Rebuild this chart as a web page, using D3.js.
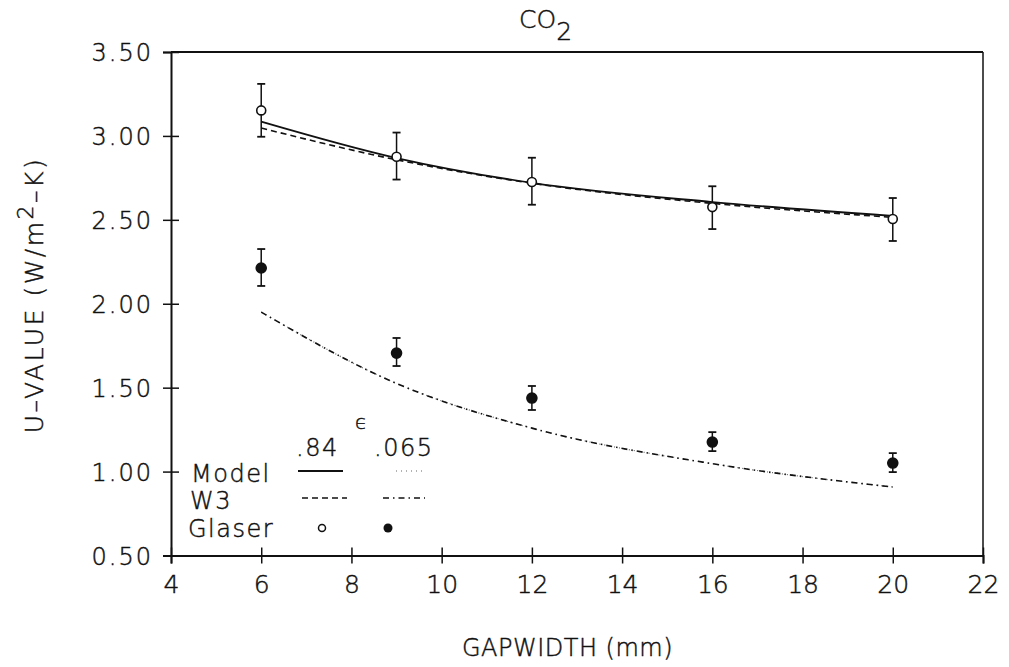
<!DOCTYPE html>
<html>
<head>
<meta charset="utf-8">
<script src="https://cdn.jsdelivr.net/npm/d3@7"></script>
<style>
  html, body { margin: 0; padding: 0; background: #fff; }
  svg { display: block; }
  svg text { font-family: "DejaVu Sans ExtraLight", "DejaVu Sans", sans-serif; font-weight: 200;
             fill: #111; stroke: #111; stroke-width: 0.45px; }
</style>
</head>
<body>
<svg id="chart" width="1009" height="667"></svg>
<script>
// Gap widths (mm) where U-values were computed / measured
const gapWidths = [6, 9, 12, 16, 20];

// Model predictions, emissivity .84 and .065
const model084 = [3.085, 2.868, 2.72, 2.606, 2.523];
const model065 = [1.95, 1.525, 1.259, 1.047, 0.908];

// W3 predictions, emissivity .84 and .065
const w3_084 = [3.047, 2.858, 2.718, 2.598, 2.515];
const w3_065 = [1.95, 1.525, 1.259, 1.047, 0.908];

// Glaser measurements with error bounds
const glaser084 = [3.152, 2.876, 2.725, 2.576, 2.505];
const glaser084Hi = [3.31, 3.02, 2.87, 2.70, 2.63];
const glaser084Lo = [2.995, 2.74, 2.59, 2.445, 2.374];

const glaser065 = [2.213, 1.706, 1.438, 1.176, 1.051];
const glaser065Hi = [2.326, 1.796, 1.51, 1.235, 1.11];
const glaser065Lo = [2.106, 1.629, 1.367, 1.122, 0.997];

// Axis ticks
const xTicks = [4, 6, 8, 10, 12, 14, 16, 18, 20, 22];
const yTicks = [0.5, 1.0, 1.5, 2.0, 2.5, 3.0, 3.5];

const svg = d3.select("#chart");
const x = d3.scaleLinear().domain([4, 22]).range([171, 983]);
const y = d3.scaleLinear().domain([0.5, 3.5]).range([555.5, 52]);

const ink = "#111";

// Frame: top and right borders
svg.append("line").attr("x1", x(4)).attr("x2", x(22)).attr("y1", y(3.5)).attr("y2", y(3.5))
  .attr("stroke", ink).attr("stroke-width", 2);
svg.append("line").attr("x1", x(22)).attr("x2", x(22)).attr("y1", y(3.5)).attr("y2", y(0.5))
  .attr("stroke", ink).attr("stroke-width", 1.5);

// Left axis with ticks crossing the spine
const yAxis = svg.append("g").attr("transform", `translate(${x(4)},0)`)
  .call(d3.axisLeft(y).tickValues(yTicks).tickFormat(d3.format(".2f")).tickSize(8).tickPadding(10));
yAxis.attr("font-family", null).attr("font-size", null);
yAxis.selectAll(".tick line").attr("x1", 8).attr("stroke", ink).attr("stroke-width", 1.5);
yAxis.select(".domain").attr("stroke", ink).attr("stroke-width", 2);
yAxis.selectAll(".tick text").attr("font-size", 24).attr("letter-spacing", 2)
  .attr("fill", ink).attr("dy", "0.36em");

// Bottom axis with ticks crossing the spine
const xAxis = svg.append("g").attr("transform", `translate(0,${y(0.5)})`)
  .call(d3.axisBottom(x).tickValues(xTicks).tickFormat(d3.format("d")).tickSize(8).tickPadding(12));
xAxis.attr("font-family", null).attr("font-size", null);
xAxis.selectAll(".tick line").attr("y1", -8).attr("stroke", ink).attr("stroke-width", 1.5);
xAxis.select(".domain").attr("stroke", ink).attr("stroke-width", 2);
xAxis.selectAll(".tick text").attr("font-size", 25).attr("fill", ink);

// Title
const title = svg.append("text").attr("x", 519).attr("y", 28).attr("font-size", 25);
title.append("tspan").text("CO");
title.append("tspan").attr("dy", 12).text("2");

// Axis titles
svg.append("text").attr("x", 462).attr("y", 656).attr("font-size", 24).attr("letter-spacing", 0.5)
  .text("GAPWIDTH (mm)");
const yl = svg.append("text").attr("transform", "translate(43,295) rotate(-90)")
  .attr("text-anchor", "middle").attr("font-size", 25).attr("letter-spacing", 2.5);
yl.append("tspan").text("U\u2013VALUE (W/m");
yl.append("tspan").attr("dy", -10).attr("font-size", 22).text("2");
yl.append("tspan").attr("dy", 10).text("\u2013K)");

// Curves
const rows = arr => gapWidths.map((g, i) => [g, arr[i]]);
const line = d3.line().x(d => x(d[0])).y(d => y(d[1])).curve(d3.curveMonotoneX);

const styles = {
  model084: { dash: null, width: 1.8, color: ink },
  w3_084: { dash: "6,4", width: 1.6, color: ink },
  model065: { dash: "1,4", width: 1.2, color: "#666" },
  w3_065: { dash: "6,4,1.5,4", width: 1.6, color: ink }
};

[[model084, styles.model084], [w3_084, styles.w3_084],
 [model065, styles.model065], [w3_065, styles.w3_065]].forEach(([vals, s]) => {
  svg.append("path").datum(rows(vals)).attr("d", line)
    .attr("fill", "none").attr("stroke", s.color).attr("stroke-width", s.width)
    .attr("stroke-dasharray", s.dash);
});

// Error bars and markers
function drawGlaser(vals, hi, lo, filled) {
  const g = svg.append("g");
  const d = gapWidths.map((gw, i) => ({ gw, v: vals[i], hi: hi[i], lo: lo[i] }));
  g.selectAll(".bar").data(d).join("line")
    .attr("x1", p => x(p.gw)).attr("x2", p => x(p.gw))
    .attr("y1", p => y(p.hi)).attr("y2", p => y(p.lo))
    .attr("stroke", ink).attr("stroke-width", 1.5);
  ["hi", "lo"].forEach(k => {
    g.selectAll(".cap-" + k).data(d).join("line")
      .attr("x1", p => x(p.gw) - 4).attr("x2", p => x(p.gw) + 4)
      .attr("y1", p => y(p[k])).attr("y2", p => y(p[k]))
      .attr("stroke", ink).attr("stroke-width", 1.8);
  });
  g.selectAll("circle").data(d).join("circle")
    .attr("cx", p => x(p.gw)).attr("cy", p => y(p.v))
    .attr("r", filled ? 5 : 4.5)
    .attr("fill", filled ? ink : "#fff").attr("stroke", ink).attr("stroke-width", 1.6);
}
drawGlaser(glaser084, glaser084Hi, glaser084Lo, false);
drawGlaser(glaser065, glaser065Hi, glaser065Lo, true);

// Legend
const leg = svg.append("g");
leg.append("text").attr("x", 355).attr("y", 429).attr("font-size", 20).text("\u03f5");
leg.append("text").attr("x", 296).attr("y", 456).attr("font-size", 24).attr("letter-spacing", 1.5).text(".84");
leg.append("text").attr("x", 374).attr("y", 456).attr("font-size", 24).attr("letter-spacing", 1.5).text(".065");
leg.append("text").attr("x", 191).attr("y", 482).attr("font-size", 24).attr("letter-spacing", 1.5).text("Model");
leg.append("text").attr("x", 190).attr("y", 509).attr("font-size", 24).attr("letter-spacing", 1.5).text("W3");
leg.append("text").attr("x", 188).attr("y", 537).attr("font-size", 24).attr("letter-spacing", 1.5).text("Glaser");

const legLines = [
  { x1: 298, x2: 343, y: 471, s: styles.model084 },
  { x1: 396, x2: 425, y: 471, s: styles.model065 },
  { x1: 302, x2: 347, y: 498, s: styles.w3_084 },
  { x1: 383, x2: 425, y: 498, s: styles.w3_065 }
];
leg.selectAll(".ll").data(legLines).join("line")
  .attr("x1", d => d.x1).attr("x2", d => d.x2).attr("y1", d => d.y).attr("y2", d => d.y)
  .attr("stroke", d => d.s.color).attr("stroke-width", d => d.s.width)
  .attr("stroke-dasharray", d => d.s.dash);
leg.append("circle").attr("cx", 322).attr("cy", 528).attr("r", 3.5)
  .attr("fill", "#fff").attr("stroke", ink).attr("stroke-width", 1.5);
leg.append("circle").attr("cx", 388).attr("cy", 528).attr("r", 4.5).attr("fill", ink);
</script>
</body>
</html>
